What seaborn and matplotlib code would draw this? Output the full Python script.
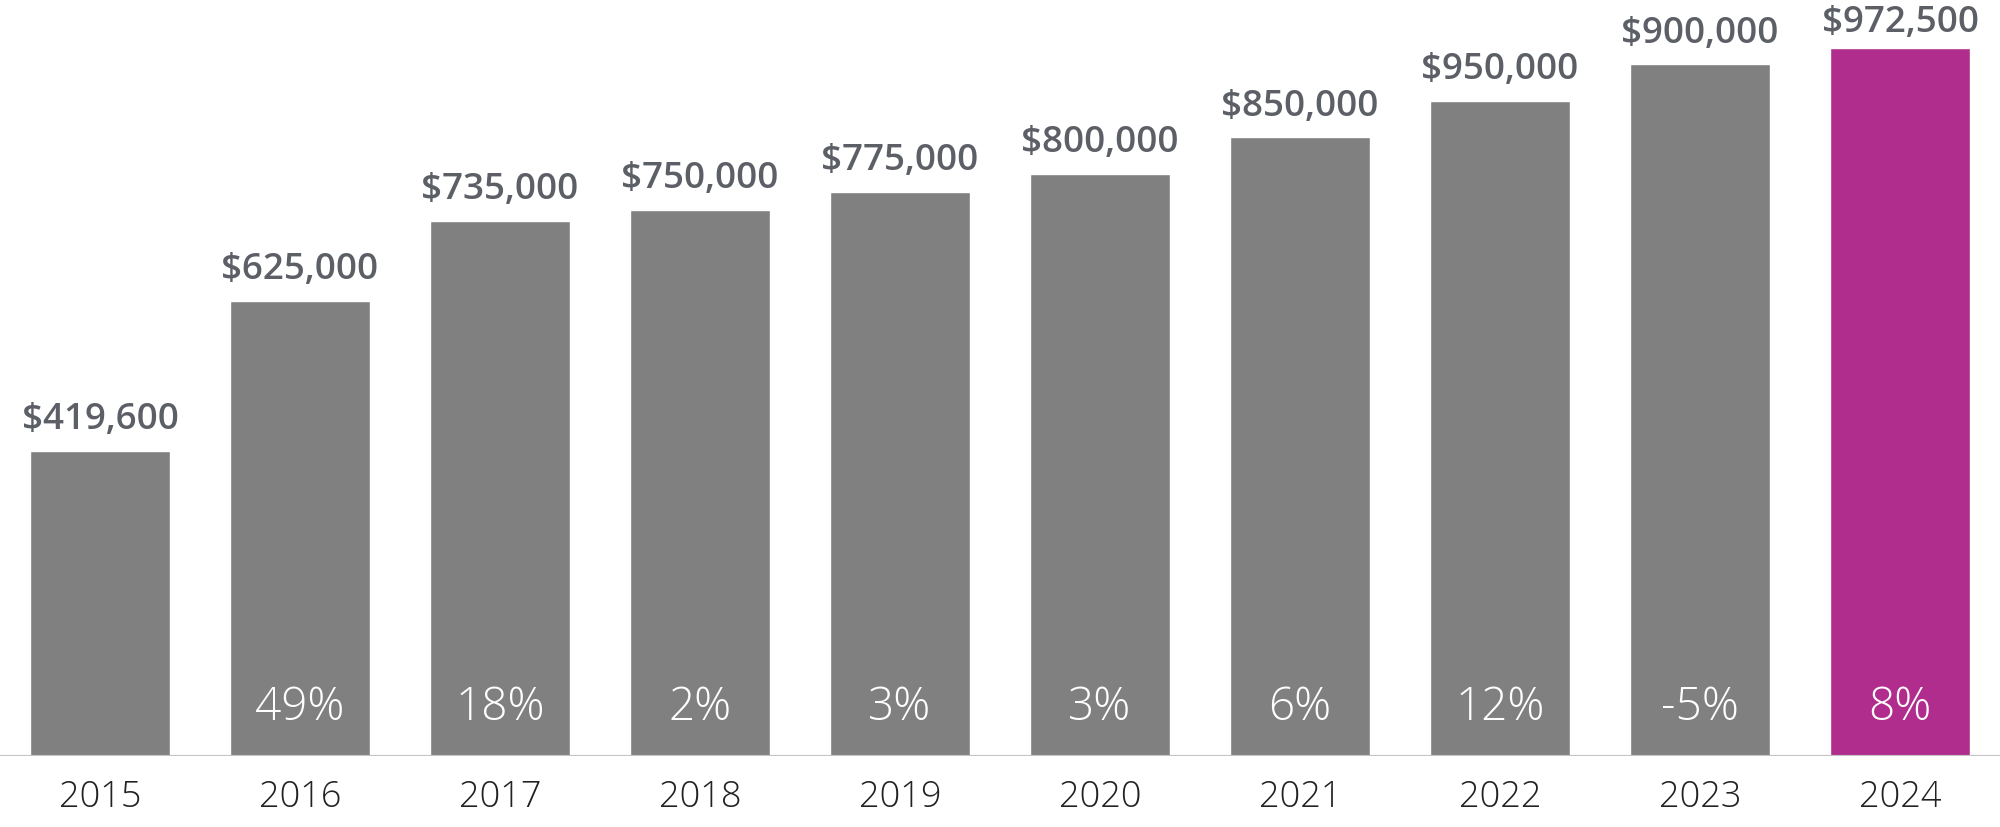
import matplotlib
matplotlib.use("Agg")
import matplotlib.pyplot as plt
import seaborn as sns
import pandas as pd

years = ["2015", "2016", "2017", "2018", "2019", "2020", "2021", "2022", "2023", "2024"]
# bar heights as drawn in the reference
bar_heights = [419600, 625000, 735000, 750000, 775000, 800000, 850000, 900000, 950000, 972500]
value_labels = ["$419,600", "$625,000", "$735,000", "$750,000", "$775,000",
                "$800,000", "$850,000", "$950,000", "$900,000", "$972,500"]
pct_labels = ["", "49%", "18%", "2%", "3%", "3%", "6%", "12%", "-5%", "8%"]

GRAY = "#808080"
MAGENTA = "#b12d8d"
colors = [GRAY] * 9 + [MAGENTA]

sns.set_theme(style="white")
plt.rcParams["font.family"] = ["Open Sans", "DejaVu Sans"]

DPI = 100
fig = plt.figure(figsize=(20, 8.28), dpi=DPI)
ax = fig.add_axes([0, 71 / 828, 1, 757 / 828])

df = pd.DataFrame({"year": years, "value": bar_heights})
sns.barplot(data=df, x="year", y="value", hue="year", palette=colors,
            legend=False, width=0.7, saturation=1, ax=ax, zorder=2)

ax.set_xlim(-0.5, 9.5)
ax.set_ylim(0, 1039800)
for s in ax.spines.values():
    s.set_visible(False)
ax.set_xticks([])
ax.set_yticks([])
ax.set_xlabel("")
ax.set_ylabel("")

ax.axhline(0, color="#c4c4c4", lw=2.3, zorder=3)

px2pt = 72 / DPI
fig_h_px = fig.get_figheight() * DPI
for i, (h, vl, pl, yr) in enumerate(zip(bar_heights, value_labels, pct_labels, years)):
    top_px = ax.transData.transform((i, h))[1]
    gap_px = min(22.5, (fig_h_px - 32) - top_px)
    ax.annotate(vl, xy=(i, h), xytext=(0, gap_px * px2pt), textcoords="offset points",
                ha="center", va="baseline", fontsize=26.5, fontweight="semibold",
                color="#5c6066", annotation_clip=False)
    if pl:
        ax.annotate(pl, xy=(i, 0), xytext=(0, 37 * px2pt), textcoords="offset points",
                    ha="center", va="baseline", fontsize=33, fontweight="light",
                    color="white", annotation_clip=False, zorder=4)
    ax.annotate(yr, xy=(i, 0), xytext=(0, -50 * px2pt), textcoords="offset points",
                ha="center", va="baseline", fontsize=26, fontweight="light",
                color="#222222", annotation_clip=False)

fig.savefig("out.png", dpi=DPI)
